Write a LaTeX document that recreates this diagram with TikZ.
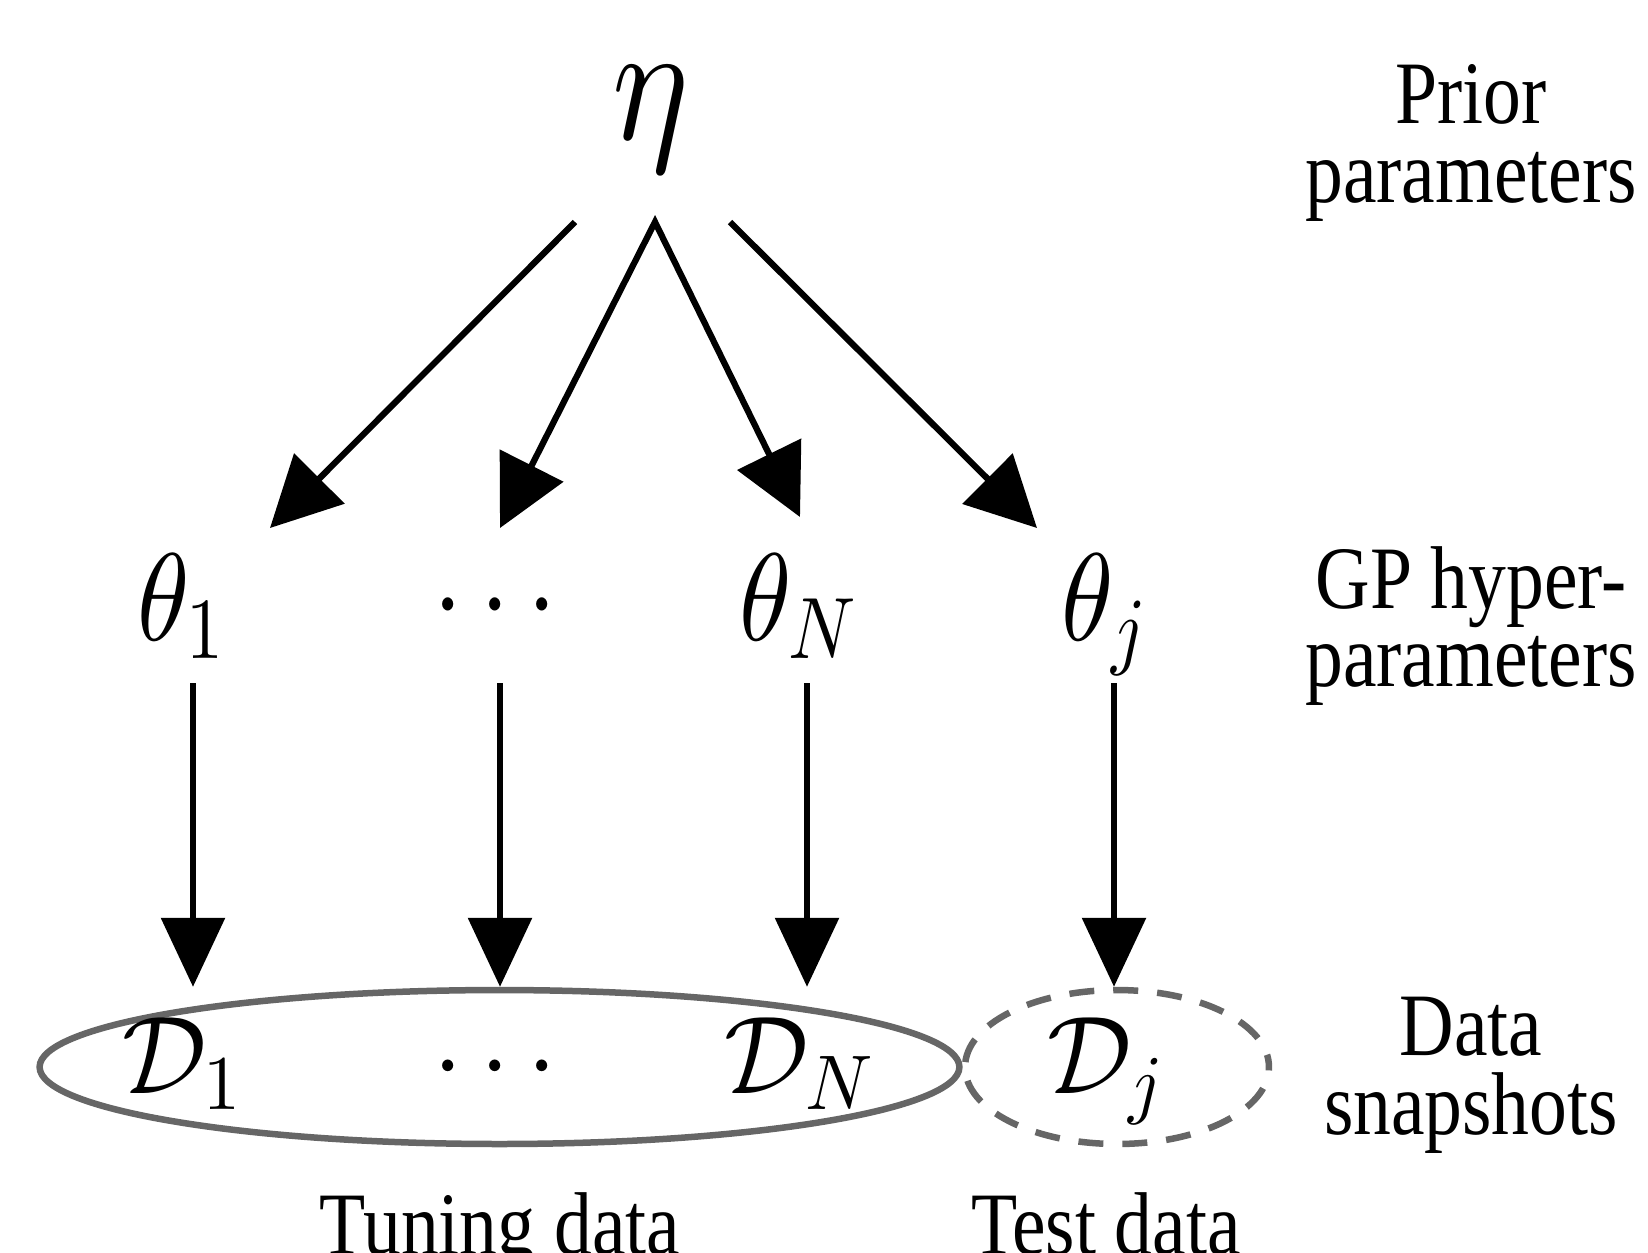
\documentclass[tikz,border=0pt]{standalone}
\usepackage[no-math]{fontspec}
\setmainfont{Liberation Serif}
\usetikzlibrary{arrows.meta,shapes.geometric}
% one design size for the math letters at every size
\DeclareFontShape{OML}{cmm}{m}{it}{<->cmmi10}{}
\DeclareFontShape{OMS}{cmsy}{m}{n}{<->cmsy10}{}
\DeclareFontShape{OT1}{cmr}{m}{n}{<->cmr10}{}

\tikzset{
  tall/.style={yscale=1.18, inner sep=0pt},
  varnode/.style={tall, anchor=base, font=\fontsize{60}{62}\selectfont},
  datanode/.style={yscale=1.05, inner sep=0pt, anchor=base, font=\fontsize{60}{62}\selectfont},
  levellabel/.style={tall, align=center, font=\fontsize{43}{38}\selectfont},
  diag/.style={-{Triangle[length=1.4cm,width=1.4cm]}, line width=0.125cm},
  down/.style={-{Triangle[length=1.38cm,width=1.26cm]}, line width=0.125cm},
  dataset/.style={draw=black!60, line width=0.13cm, ellipse, inner sep=0pt,
    minimum height=3.08cm}
}

\begin{document}
\begin{tikzpicture}[x=0.02cm, y=-0.02cm]
\useasboundingbox (0,0) rectangle (1648,1252);

% data sets
\node[dataset, minimum width=18.4cm] (tune) at (499.5,1067) {};
\node[dataset, minimum width=6.08cm, dash pattern=on 0.5cm off 0.38cm,
  dash phase=0.25cm] (test) at (1117,1067) {};

% prior
\node[varnode, font=\fontsize{82}{84}\selectfont] (eta) at (651,139) {$\eta$};

% GP hyperparameters
\node[varnode] (th1) at (181,640) {$\theta_1$};
\node[varnode] (thd) at (495,635) {$\cdots$};
\node[varnode] (thN) at (798,640) {$\theta_N$};
\node[varnode] (thj) at (1104,640) {$\theta_j$};

% snapshots
\node[datanode] (d1) at (182,1093) {$\mathcal{D}_1$};
\node[datanode] (dd) at (495,1093) {$\cdots$};
\node[datanode] (dN) at (799,1093) {$\mathcal{D}_N$};
\node[datanode] (dj) at (1106,1093) {$\mathcal{D}_j$};

% level labels
\node[levellabel] (prior) at (1471,143) {Prior\\parameters};
\node[levellabel] (hyper) at (1471,626) {GP hyper-\\parameters};
\node[levellabel] (snap) at (1471,1075) {Data\\snapshots};
\node[levellabel, anchor=base] (tuning) at (500,1254) {Tuning data};
\node[levellabel, anchor=base] (testlbl) at (1106,1254) {Test data};

% arrow ends
\coordinate (s1) at (575,222);
\coordinate (apex) at (655,222);
\coordinate (s4) at (730,222);
\coordinate (e1) at (270,528);
\coordinate (e2) at (500,528);
\coordinate (e3) at (800,517);
\coordinate (e4) at (1037,528);
\coordinate (v1) at (193,683);
\coordinate (v2) at (500,683);
\coordinate (v3) at (807,683);
\coordinate (v4) at (1114,683);

\draw[diag] (s1) -- (e1);
\draw[diag, {Triangle[length=1.4cm,width=1.4cm]}-{Triangle[length=1.4cm,width=1.4cm]}]
  (e2) -- (apex) -- (e3);
\draw[diag] (s4) -- (e4);

\draw[down] (v1) -- (v1 |- tune.north);
\draw[down] (v2) -- (v2 |- tune.north);
\draw[down] (v3) -- (v3 |- tune.north);
\draw[down] (v4) -- (v4 |- test.north);
\end{tikzpicture}
\end{document}
